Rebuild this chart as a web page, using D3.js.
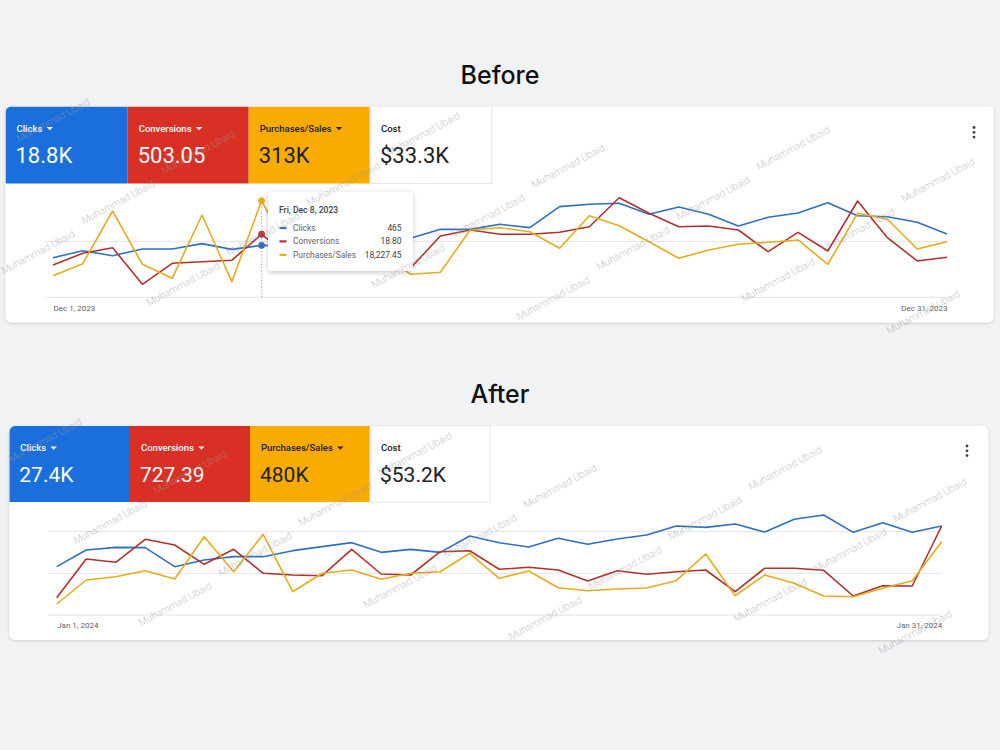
<!DOCTYPE html>
<html>
<head>
<meta charset="utf-8">
<script src="https://cdn.jsdelivr.net/npm/d3@7"></script>
<style>
  body { margin: 0; background: #f1f2f4; }
  svg { display: block; font-family: Roboto, "Noto Sans", sans-serif; }
</style>
</head>
<body>
<svg id="chart" width="1000" height="750"></svg>
<script>
/****
 *  Google Ads overview cards, before / after
 */

// ---- Before : December 2023 ----
const decClicks = [354, 417, 372, 432, 432, 480, 429, 465, 459, 477, 495, 513, 528, 608, 608, 653,
                   623, 811, 832, 841, 743, 808, 743, 638, 716, 754, 846, 730, 721, 671, 566];
const decConversions = [9.63, 13.12, 14.79, 3.88, 10.14, 10.62, 11.03, 18.80, 11.7, 14.5, 13.8, 12.8,
                        8.74, 18.28, 20.07, 18.79, 18.79, 19.38, 21.05, 29.70, 25.05, 21.05, 21.26,
                        20.07, 13.60, 19.38, 13.81, 28.72, 17.77, 10.83, 11.93];
const decPurchases = [4080, 6347, 16302, 6234, 3589, 15546, 2947, 18227.45, 7800, 12500, 11500, 8500,
                      4345, 4722, 12713, 13147, 12392, 9256, 15414, 13525, 10503, 7367, 8935, 10012,
                      10390, 10824, 6234, 15868, 14734, 9124, 10503];
const decTotals = ["18.8K", "503.05", "313K", "$33.3K"];
const decMax = [900, 30, 19000];          // top gridline of each series' own axis
const decHover = 7;                       // Fri, Dec 8

// ---- After : January 2024 ----
const janClicks = [580, 780, 812, 808, 580, 660, 700, 700, 772, 820, 868, 752, 788, 752, 948, 868,
                   816, 920, 848, 912, 960, 1068, 1052, 1092, 996, 1148, 1200, 992, 1108, 992, 1068];
const janConversions = [8.65, 28.0, 26.35, 37.85, 35.0, 25.35, 32.85, 20.85, 20.0, 19.65, 32.85, 20.5,
                        20.0, 31.65, 32.15, 22.85, 23.85, 22.5, 17.0, 22.15, 20.35, 21.65, 22.5, 11.65,
                        23.35, 23.35, 22.35, 9.5, 14.65, 14.5, 44.5];
const janPurchases = [4400, 14000, 15320, 17720, 14400, 31320, 17320, 32280, 9320, 16680, 18000, 14280,
                      16680, 17320, 24680, 14680, 17600, 10920, 9720, 10400, 10800, 13720, 24400, 7720,
                      16000, 12680, 7600, 7320, 10680, 13720, 29320];
const janTotals = ["27.4K", "727.39", "480K", "$53.2K"];
const janMax = [1200, 50, 40000];

const metricNames = ["Clicks", "Conversions", "Purchases/Sales", "Cost"];
const seriesNames = ["Clicks", "Conversions", "Purchases/Sales"];
const tileFill = ["#1a6fdc", "#d93025", "#f9ab00", "#ffffff"];
const tileText = ["#ffffff", "#ffffff", "#202124", "#202124"];
const lineColors = ["#2f6fbd", "#b0322b", "#e4ac1e"];

const decDates = d3.range(31).map(i => new Date(2023, 11, i + 1));
const janDates = d3.range(31).map(i => new Date(2024, 0, i + 1));

const svg = d3.select("#chart");
const defs = svg.append("defs");
defs.append("filter").attr("id", "cardShadow").attr("x", "-5%").attr("y", "-5%")
    .attr("width", "110%").attr("height", "115%")
    .append("feDropShadow").attr("dx", 0).attr("dy", 1).attr("stdDeviation", 1.4)
    .attr("flood-color", "#000").attr("flood-opacity", 0.16);
defs.append("filter").attr("id", "tipShadow").attr("x", "-20%").attr("y", "-20%")
    .attr("width", "140%").attr("height", "150%")
    .append("feDropShadow").attr("dx", 0).attr("dy", 1.5).attr("stdDeviation", 2.5)
    .attr("flood-color", "#000").attr("flood-opacity", 0.22);

function drawPanel(p) {

  const g = svg.append("g");

  // title
  svg.append("text")
     .attr("x", 500).attr("y", p.titleY)
     .attr("text-anchor", "middle")
     .attr("font-family", "Inter, 'Open Sans', sans-serif")
     .attr("font-size", "25px").attr("font-weight", 500)
     .attr("fill", "#111")
     .text(p.title);

  // card
  const c = p.card;
  g.append("rect")
   .attr("x", c.x).attr("y", c.y).attr("width", c.w).attr("height", c.h)
   .attr("rx", 6).attr("fill", "#fff").attr("filter", "url(#cardShadow)");

  const clipId = "clip" + p.id;
  defs.append("clipPath").attr("id", clipId)
      .append("rect").attr("x", c.x).attr("y", c.y).attr("width", c.w).attr("height", c.h).attr("rx", 6);

  // metric tiles
  const tiles = g.append("g").attr("clip-path", "url(#" + clipId + ")");
  metricNames.forEach((name, i) => {
    const x0 = p.tileX[i], x1 = p.tileX[i + 1];
    tiles.append("rect")
         .attr("x", x0).attr("y", c.y).attr("width", x1 - x0).attr("height", p.tileH)
         .attr("fill", tileFill[i])
         .attr("stroke", i === 3 ? "#e6e7e9" : "none");
    const label = tiles.append("text")
         .attr("x", x0 + 11).attr("y", c.y + 25)
         .attr("font-size", "9.5px").attr("font-weight", 500)
         .attr("fill", tileText[i])
         .text(name);
    if (i < 3) {
      const w = label.node().getComputedTextLength();
      const cx = x0 + 11 + w + 7.5, cy = c.y + 22;
      tiles.append("path")
           .attr("d", `M${cx - 3.2},${cy - 1.6}L${cx + 3.2},${cy - 1.6}L${cx},${cy + 1.8}Z`)
           .attr("fill", tileText[i]);
    }
    tiles.append("text")
         .attr("x", x0 + 10).attr("y", c.y + 56)
         .attr("font-size", p.valueSize).attr("font-weight", 400)
         .attr("fill", tileText[i])
         .text(p.totals[i]);
  });

  // three-dot menu
  g.selectAll(".menuDot").data([0, 1, 2]).join("circle")
   .attr("cx", p.menu[0]).attr("cy", d => p.menu[1] + d * 4.8)
   .attr("r", 1.4).attr("fill", "#3c4043");

  // scales
  const x = d3.scaleTime()
              .domain(d3.extent(p.dates))
              .range([p.x0, p.x1]);
  const ys = p.max.map(m => d3.scaleLinear().domain([0, m]).range([p.yBase, p.yTop]));

  // gridlines
  g.selectAll(".grid" + p.id).data(ys[0].ticks(2)).join("line")
   .attr("x1", p.gridLeft).attr("x2", p.x1)
   .attr("y1", d => ys[0](d)).attr("y2", d => ys[0](d))
   .attr("stroke", "#e3e4e6").attr("stroke-width", 1);

  // X axis: first and last day only
  const ax = g.append("g")
              .attr("transform", "translate(0," + p.yBase + ")")
              .call(d3.axisBottom(x)
                      .tickValues([p.dates[0], p.dates[p.dates.length - 1]])
                      .tickFormat(d3.timeFormat("%b %-d, %Y"))
                      .tickSize(0)
                      .tickPadding(p.tickPad));
  ax.select(".domain").remove();
  ax.selectAll("text")
    .attr("font-family", "Roboto, sans-serif")
    .attr("font-size", "8px").attr("fill", "#5f6368")
    .attr("text-anchor", (d, i) => i === 0 ? "start" : "end");

  // lines
  const series = [p.clicks, p.conversions, p.purchases];
  series.forEach((vals, k) => {
    g.append("path")
     .datum(vals.map((v, i) => ({ date: p.dates[i], v: v })))
     .attr("fill", "none")
     .attr("stroke", lineColors[k])
     .attr("stroke-width", 1.6)
     .attr("stroke-linejoin", "round")
     .attr("d", d3.line().x(d => x(d.date)).y(d => ys[k](d.v)));
  });

  // hover state (Before only)
  if (p.hover != null) {
    const h = p.hover, hx = x(p.dates[h]);
    g.append("line")
     .attr("x1", hx).attr("x2", hx).attr("y1", p.yTop).attr("y2", p.yBase)
     .attr("stroke", "#9aa0a6").attr("stroke-width", 1).attr("stroke-dasharray", "1.2,2");
    series.forEach((vals, k) => {
      g.append("circle")
       .attr("cx", hx).attr("cy", ys[k](vals[h]))
       .attr("r", 3.4).attr("fill", lineColors[k]);
    });

    const tip = g.append("g").attr("transform", "translate(268,192)");
    tip.append("rect")
       .attr("width", 145).attr("height", 79).attr("rx", 4)
       .attr("fill", "#fff").attr("filter", "url(#tipShadow)");
    tip.append("text")
       .attr("x", 11).attr("y", 20.5)
       .attr("font-size", "8.6px").attr("font-weight", 500).attr("fill", "#3c4043")
       .text(d3.timeFormat("%a, %b %-d, %Y")(p.dates[h]));
    const fmt = [d3.format(","), d3.format(".2f"), d3.format(",.2f")];
    series.forEach((vals, k) => {
      const ry = 39 + k * 13.4;
      tip.append("line")
         .attr("x1", 11.5).attr("x2", 18.5).attr("y1", ry - 3).attr("y2", ry - 3)
         .attr("stroke", lineColors[k]).attr("stroke-width", 2.2);
      tip.append("text")
         .attr("x", 25).attr("y", ry)
         .attr("font-size", "8.4px").attr("fill", "#5f6368")
         .text(seriesNames[k]);
      tip.append("text")
         .attr("x", 133.5).attr("y", ry)
         .attr("text-anchor", "end")
         .attr("font-size", "8.4px").attr("fill", "#3c4043")
         .text(fmt[k](vals[h]));
    });
  }

  // screenshot watermark, tiled on a skewed lattice
  const marks = [];
  for (let a = -5; a <= 6; a++) {
    for (let b = -6; b <= 6; b++) {
      const mx = p.wmOrigin[0] + a * 225 + b * 80;
      const my = p.wmOrigin[1] - a * 18 - b * 50;
      if (mx - 36 >= 0 && mx + 36 <= 1000 && my - 19 >= p.wmBand[0] && my + 19 <= p.wmBand[1]) {
        marks.push([mx, my]);
      }
    }
  }
  svg.append("g")
     .selectAll("text").data(marks).join("text")
     .attr("transform", d => `translate(${d[0]},${d[1]}) rotate(-28)`)
     .attr("text-anchor", "middle").attr("dy", "0.35em")
     .attr("font-size", "10px").attr("font-weight", 300)
     .attr("fill", "#9a9a9a").attr("fill-opacity", 0.62)
     .text("Muhammad Ubaid");
}

drawPanel({
  id: "dec", title: "Before", titleY: 83.5,
  card: { x: 5.5, y: 106.5, w: 988, h: 216 },
  tileX: [5.5, 127.7, 248.7, 370, 491.7], tileH: 77, valueSize: "22px",
  totals: decTotals, menu: [974, 127.5],
  dates: decDates, clicks: decClicks, conversions: decConversions, purchases: decPurchases,
  max: decMax, hover: decHover,
  x0: 53, x1: 947, gridLeft: 45, yTop: 196.7, yBase: 297.3, tickPad: 8,
  wmOrigin: [38, 252], wmBand: [98, 334]
});

drawPanel({
  id: "jan", title: "After", titleY: 403,
  card: { x: 9.3, y: 426, w: 979, h: 214 },
  tileX: [9.3, 130, 250, 370, 490], tileH: 76, valueSize: "21px",
  totals: janTotals, menu: [967, 446],
  dates: janDates, clicks: janClicks, conversions: janConversions, purchases: janPurchases,
  max: janMax, hover: null,
  x0: 56.7, x1: 941.7, gridLeft: 48, yTop: 515, yBase: 615, tickPad: 7,
  wmOrigin: [30, 572], wmBand: [418, 652]
});
</script>
</body>
</html>
